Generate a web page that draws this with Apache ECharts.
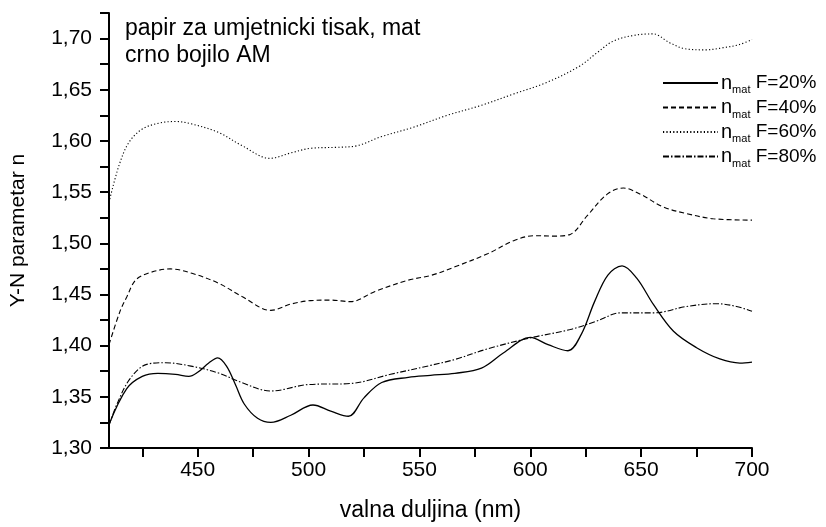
<!DOCTYPE html>
<html>
<head>
<meta charset="utf-8">
<script src="https://cdn.jsdelivr.net/npm/echarts@6/dist/echarts.min.js"></script>
<style>html,body{margin:0;padding:0;background:#fff}#c{width:826px;height:527px}</style>
</head>
<body>
<div id="c"></div>
<script>
// ---- data ----
const xTicks = [425,450,475,500,525,550,575,600,625,650,675,700];
const xLabels = [450,500,550,600,650,700];
const yTicks = [1.300,1.325,1.350,1.375,1.400,1.425,1.450,1.475,1.500,1.525,1.550,1.575,1.600,1.625,1.650,1.675,1.700,1.725];
const yLabels = [1.30,1.35,1.40,1.45,1.50,1.55,1.60,1.65,1.70];

const seriesNames = ['F=20%','F=40%','F=60%','F=80%'];

const wl20 = [410,418,425,432,440,446,450,455,459,463,467,471,477,483,492,502,510,518,525,533,545,555,566,578,588,600,608,617,623,629,635,641.4,648,655.6,664.6,675,685.5,694.5,700];
const n20  = [1.323,1.358,1.370,1.373,1.372,1.370,1.374,1.383,1.388,1.380,1.362,1.343,1.329,1.325,1.332,1.342,1.336,1.331,1.349,1.364,1.369,1.371,1.373,1.378,1.393,1.408,1.401,1.395,1.411,1.443,1.469,1.478,1.466,1.440,1.414,1.398,1.387,1.383,1.384];

const wl40 = [410,415,418,422,428,437.7,447.4,459.4,470,483,492,501,510,519,530,545,555,566,581,593,602,611,618,625.7,634.7,642,649.6,660,670.6,682.5,700];
const n40  = [1.401,1.4337,1.4475,1.464,1.471,1.475,1.4707,1.461,1.448,1.4345,1.4406,1.444,1.4445,1.443,1.453,1.464,1.4685,1.477,1.490,1.503,1.5074,1.507,1.5087,1.527,1.548,1.554,1.548,1.5355,1.529,1.524,1.5226];

const wl60 = [410,414.5,419,425,432.5,440,447.4,459.4,470,482.6,492,501,513,522,532.6,547.6,562.5,577.5,592.5,607.5,622.4,630,637.4,646.4,655.4,662.8,670,679,686.8,694,700];
const n60  = [1.540,1.576,1.5986,1.6116,1.6174,1.619,1.6165,1.6083,1.5954,1.583,1.5883,1.5928,1.5938,1.5954,1.604,1.6136,1.625,1.6345,1.6459,1.6572,1.6733,1.686,1.6975,1.703,1.7046,1.696,1.690,1.689,1.691,1.694,1.699];

const wl80 = [410,414,419.6,427,435.5,447,459,470,483,500,519,537,555,566,581,600,618,630,640.7,655.6,670.6,684,693,700];
const n80  = [1.322,1.345,1.368,1.3817,1.3833,1.380,1.3735,1.3638,1.3557,1.362,1.363,1.372,1.3807,1.3865,1.397,1.4076,1.4157,1.424,1.432,1.432,1.4383,1.441,1.4383,1.4335];

// ---- chart ----
const FONT = 'Liberation Sans, Arial, sans-serif';
const zip = (a, b) => a.map((v, i) => [v, b[i]]);
const dashes = ['solid', [5, 3], [1.2, 2.2], [6, 2, 1.5, 2]];
const dataSets = [zip(wl20, n20), zip(wl40, n40), zip(wl60, n60), zip(wl80, n80)];

const chart = echarts.init(document.getElementById('c'), null, {renderer: 'canvas'});
chart.setOption({
  animation: false,
  backgroundColor: '#fff',
  textStyle: {fontFamily: FONT, color: '#000'},
  title: {
    text: 'papir za umjetnicki tisak, mat\ncrno bojilo AM',
    left: 125, top: 15, padding: 0,
    textStyle: {fontFamily: FONT, fontSize: 23, fontWeight: 'normal', color: '#000', lineHeight: 27}
  },
  grid: {left: 107, right: 74, top: 13, bottom: 76, containLabel: false},
  legend: {
    orient: 'vertical', left: 657, top: 68,
    itemWidth: 55, itemHeight: 12, itemGap: 2,
    data: seriesNames,
    itemStyle: {opacity: 0},
    formatter: name => '{n|n}{s|mat}{t| ' + name + '}',
    textStyle: {
      fontFamily: FONT, color: '#000', padding: [0, 0, 0, -2],
      rich: {
        n: {fontSize: 20, lineHeight: 25, fontFamily: FONT, verticalAlign: 'middle'},
        s: {fontSize: 11, lineHeight: 8, fontFamily: FONT, verticalAlign: 'bottom'},
        t: {fontSize: 19, lineHeight: 25, fontFamily: FONT, verticalAlign: 'middle'}
      }
    }
  },
  xAxis: {
    type: 'value', min: 410, max: 700,
    name: 'valna duljina (nm)', nameLocation: 'middle', nameGap: 51,
    nameTextStyle: {fontFamily: FONT, fontSize: 23, color: '#000'},
    axisLine: {onZero: false, lineStyle: {color: '#000', width: 2}},
    axisTick: {show: true, inside: false, length: 9, lineStyle: {color: '#000', width: 2}, customValues: xTicks},
    axisLabel: {fontFamily: FONT, fontSize: 21, color: '#000', margin: 12, customValues: xLabels},
    splitLine: {show: false}
  },
  yAxis: {
    type: 'value', min: 1.30, max: 1.725,
    name: 'Y-N parametar n', nameLocation: 'middle', nameGap: 80, nameRotate: 90,
    nameTextStyle: {fontFamily: FONT, fontSize: 21, color: '#000'},
    axisLine: {onZero: false, lineStyle: {color: '#000', width: 2}},
    axisTick: {show: true, inside: false, length: 9, lineStyle: {color: '#000', width: 2}, customValues: yTicks},
    axisLabel: {fontFamily: FONT, fontSize: 21, color: '#000', margin: 17, customValues: yLabels,
      formatter: v => v.toFixed(2).replace('.', ',')},
    splitLine: {show: false}
  },
  series: dataSets.map((d, i) => ({
    name: seriesNames[i],
    type: 'line',
    data: d,
    smooth: 0.35,
    symbol: 'none',
    showSymbol: false,
    lineStyle: {color: '#000', width: i === 0 ? 1.3 : 1.1, type: dashes[i]},
    itemStyle: {color: '#000'}
  }))
});
</script>
</body>
</html>
